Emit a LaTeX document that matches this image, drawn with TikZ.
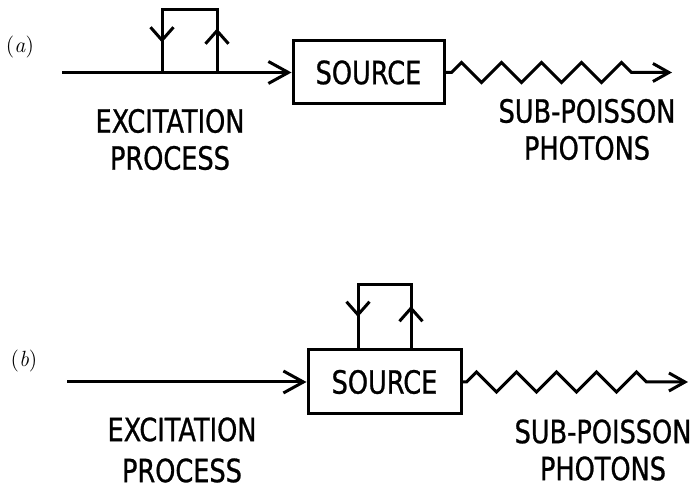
\documentclass[tikz,border=0pt]{standalone}
\usepackage{fontspec}
\usetikzlibrary{arrows.meta,decorations.pathmorphing,decorations.markings}
\newfontfamily\plotter[FakeStretch=0.8,FakeBold=0.8]{DejaVu Sans}
\tikzset{
  wire/.style={line width=1.5pt,draw=black},
  flow/.style={wire,-{Straight Barb[length=10pt,width=11pt]}},
  block/.style={draw=black,line width=1.5pt,inner sep=0pt,font=\plotter\fontsize{16pt}{18pt}\selectfont},
  caption/.style={align=center,inner sep=0pt,font=\plotter\fontsize{16pt}{18.5pt}\selectfont},
  panel/.style={inner sep=0pt,font=\fontsize{11pt}{13pt}\selectfont},
  photon/.style={wire,-{Straight Barb[length=8pt,width=9pt]},decorate,
    decoration={zigzag,segment length=20pt,amplitude=5pt,pre length=#1,post length=11pt}},
  loop/.style={wire,postaction={decorate},decoration={markings,
    mark=at position 22pt with {\arrow{Straight Barb[length=6.5pt,width=11.5pt]}},
    mark=at position 75pt with {\arrow{Straight Barb[length=6.5pt,width=11.5pt]}}}}
}
\begin{document}
\begin{tikzpicture}[x=0.5pt,y=0.5pt]
  \useasboundingbox (0,0) rectangle (692,487);
  % (a) feedback on the excitation
  \node[panel] (lblA) at (20,440) {(\textit{a})};
  \node[block,minimum width=75.5pt,minimum height=31.5pt] (srcA) at (368.5,414.5) {SOURCE};
  \coordinate (inA) at (62,414.5);
  \coordinate (tapA) at (162,414.5);
  \coordinate (retA) at (217,414.5);
  \coordinate (outA) at (672,414.5);
  \draw[flow] (inA) -- (srcA.west);
  \draw[loop] (retA) -- ++(0,62.5) -| (tapA);
  \draw[photon=3pt] (srcA.east) -- (outA);
  \node[caption] (excA) at (170,347.5) {EXCITATION\\PROCESS};
  \node[caption] (subA) at (587,357.5) {SUB-POISSON\\PHOTONS};
  % (b) feedback on the source
  \node[panel] (lblB) at (24,126) {(\textit{b})};
  \node[block,minimum width=76.5pt,minimum height=32pt] (srcB) at (384.5,105) {SOURCE};
  \coordinate (inB) at (67,105);
  \coordinate (tapB) at (358,137);
  \coordinate (retB) at (411,137);
  \coordinate (outB) at (688,105);
  \draw[flow] (inB) -- (srcB.west);
  \draw[loop] (retB) -- ++(0,65) -| (tapB);
  \draw[photon=2pt] (srcB.east) -- (outB);
  \node[caption] (excB) at (182,37) {EXCITATION\\[2pt]PROCESS};
  \node[caption] (subB) at (603,37) {SUB-POISSON\\PHOTONS};
\end{tikzpicture}
\end{document}
